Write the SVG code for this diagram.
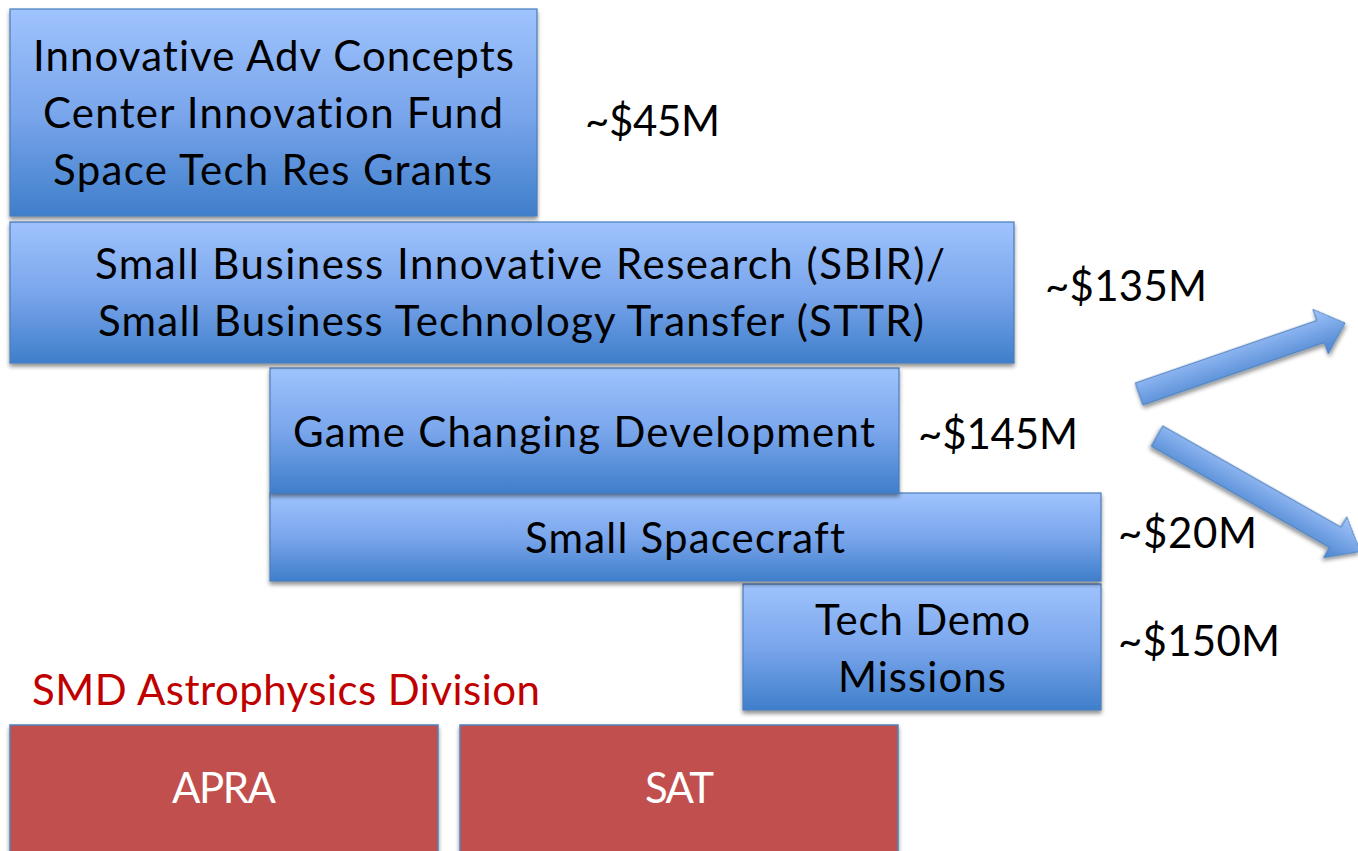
<svg xmlns="http://www.w3.org/2000/svg" width="1358" height="851" viewBox="0 0 1358 851">
<defs>
<linearGradient id="gBox" x1="0" y1="0" x2="0" y2="1">
<stop offset="0" stop-color="#9fc3fd"/>
<stop offset="0.5" stop-color="#7aa6ec"/>
<stop offset="1" stop-color="#3f7ecb"/>
</linearGradient>
<linearGradient id="gArrow" x1="0" y1="0" x2="0" y2="1">
<stop offset="0" stop-color="#a2c4fb"/>
<stop offset="1" stop-color="#4a84cf"/>
</linearGradient>
<filter id="sh" x="-5%" y="-5%" width="110%" height="120%">
<feGaussianBlur in="SourceAlpha" stdDeviation="2"/>
<feOffset dx="0" dy="3" result="b"/>
<feComponentTransfer><feFuncA type="linear" slope="0.45"/></feComponentTransfer>
<feMerge><feMergeNode/><feMergeNode in="SourceGraphic"/></feMerge>
</filter>
</defs>
<style>
.box{fill:url(#gBox);stroke:#4a7ebb;stroke-width:1.2;filter:url(#sh)}
.red{fill:#c0504d;stroke:#4f81bd;stroke-width:1.5;filter:url(#sh)}
.arr{fill:url(#gArrow);stroke:#4a7ebb;stroke-width:1;filter:url(#sh)}
text{font-family:Lato,"Open Sans","Liberation Sans",sans-serif;font-size:42px;fill:#000;font-variant-ligatures:none}
.w{fill:#ffffff}
.r{fill:#c00000}
</style>
<rect width="1358" height="851" fill="#ffffff"/>
<g id="red-boxes">
<g id="apra"><rect class="red" x="10" y="725" width="428" height="140"/><text class="w" x="172" y="803" textLength="104">APRA</text></g>
<g id="sat"><rect class="red" x="460" y="725" width="438" height="140"/><text class="w" x="645" y="803" textLength="69">SAT</text></g>
</g>
<g id="smd-label"><text class="r" x="32" y="705" textLength="508">SMD Astrophysics Division</text></g>
<g id="tech-demo"><rect class="box" x="743" y="584" width="358" height="126"/>
<text x="815" y="635" textLength="215">Tech Demo</text><text x="838" y="692" textLength="168">Missions</text></g>
<g id="small-spacecraft"><rect class="box" x="270" y="493" width="831" height="88"/>
<text x="525" y="553" textLength="320">Small Spacecraft</text></g>
<g id="game-changing"><rect class="box" x="270" y="368" width="629" height="125"/>
<text x="293" y="447" textLength="582">Game Changing Development</text></g>
<g id="sbir"><rect class="box" x="10" y="222" width="1004" height="141"/>
<text x="95" y="279" textLength="850">Small Business Innovative Research (SBIR)/</text>
<text x="98" y="336" textLength="826">Small Business Technology Transfer (STTR)</text></g>
<g id="innovative"><rect class="box" x="10" y="9" width="527" height="207"/>
<text x="33" y="71" textLength="481">Innovative Adv Concepts</text>
<text x="43" y="128" textLength="460">Center Innovation Fund</text>
<text x="53" y="185" textLength="439">Space Tech Res Grants</text></g>
<g id="amounts">
<text x="585" y="136" textLength="135">~$45M</text>
<text x="1045" y="301" textLength="162">~$135M</text>
<text x="918" y="449" textLength="160">~$145M</text>
<text x="1118" y="548" textLength="139">~$20M</text>
<text x="1118" y="656" textLength="162">~$150M</text>
</g>
<g id="connectors">
<polygon class="arr" transform="translate(1139,394) rotate(-19)" points="0,-11.7 192,-11.7 192,-23.5 218,0 192,23.5 192,11.7 0,11.7"/>
<polygon class="arr" transform="translate(1157,436) rotate(29.6)" points="0,-11.7 205,-11.7 205,-23.5 234,0 205,23.5 205,11.7 0,11.7"/>
</g>
</svg>
